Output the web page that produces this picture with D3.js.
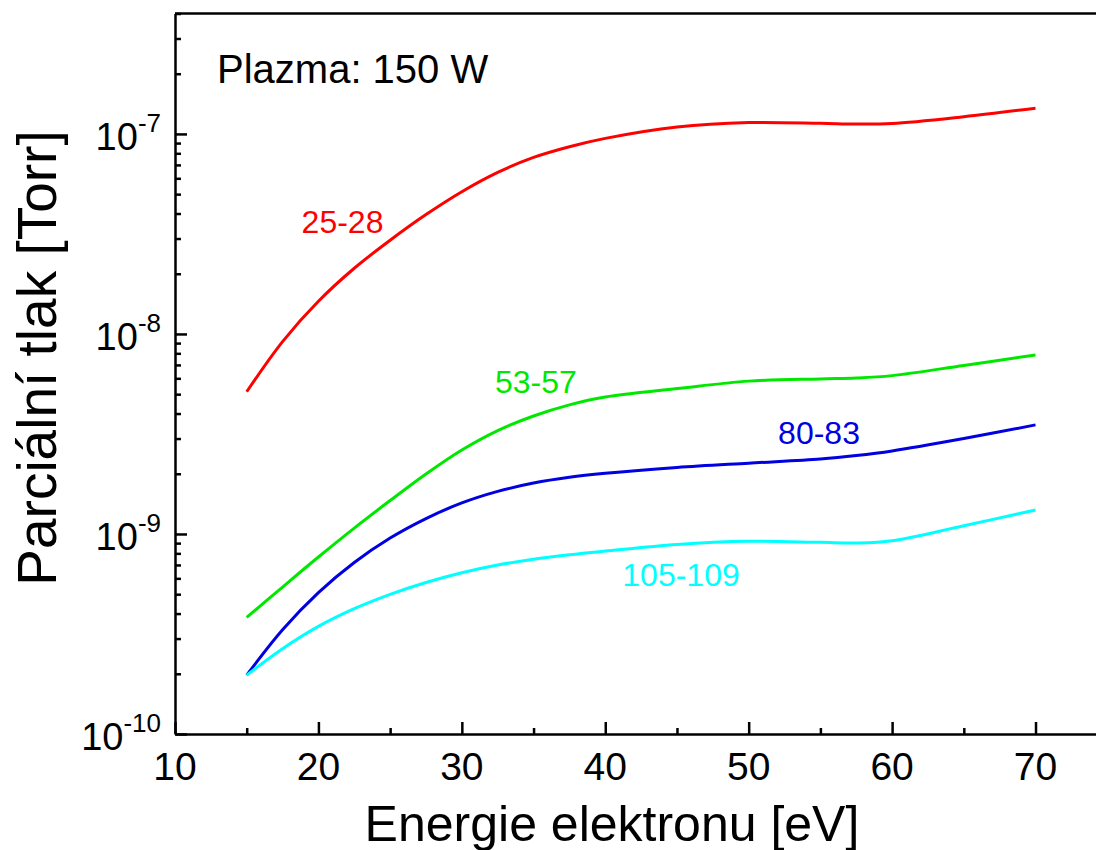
<!DOCTYPE html>
<html>
<head>
<meta charset="utf-8">
<script src="https://cdn.jsdelivr.net/npm/d3@7"></script>
<style>
  html, body { margin: 0; padding: 0; background: #fff; }
  svg { display: block; font-family: "Liberation Sans", Arial, Helvetica, sans-serif; }
</style>
</head>
<body>
<svg id="chart" width="1096" height="850"></svg>
<script>
// ---- data ----
const energy = [15, 17.5, 20, 22.5, 25, 27.5, 30, 32.5, 35, 37.5, 40, 45, 50, 55, 57.5, 60, 65, 70];
const s25_28 = [5.14e-9, 9.16e-9, 1.457e-8, 2.13e-8, 2.94e-8, 3.95e-8, 5.14e-8, 6.42e-8, 7.63e-8, 8.63e-8, 9.5e-8, 1.083e-7, 1.14e-7, 1.13e-7, 1.12e-7, 1.128e-7, 1.22e-7, 1.345e-7];
const s53_57 = [3.83e-10, 5.43e-10, 7.67e-10, 1.07e-9, 1.469e-9, 1.995e-9, 2.63e-9, 3.29e-9, 3.89e-9, 4.42e-9, 4.84e-9, 5.33e-9, 5.81e-9, 5.96e-9, 6.02e-9, 6.19e-9, 6.96e-9, 7.85e-9];
const s80_83 = [1.97e-10, 3.32e-10, 5.09e-10, 7.2e-10, 9.54e-10, 1.194e-9, 1.43e-9, 1.633e-9, 1.797e-9, 1.92e-9, 2.01e-9, 2.15e-9, 2.26e-9, 2.37e-9, 2.466e-9, 2.6e-9, 3.0e-9, 3.51e-9];
const s105_109 = [1.97e-10, 2.67e-10, 3.45e-10, 4.23e-10, 4.99e-10, 5.72e-10, 6.40e-10, 6.99e-10, 7.48e-10, 7.87e-10, 8.21e-10, 8.87e-10, 9.19e-10, 9.08e-10, 9.02e-10, 9.26e-10, 1.10e-9, 1.318e-9];
const seriesNames = ["25-28", "53-57", "80-83", "105-109"];
const xTickValues = [10, 20, 30, 40, 50, 60, 70];
const yTickExponents = [-10, -9, -8, -7];
const annotation = "Plazma: 150 W";
const xTitle = "Energie elektronu [eV]";
const yTitle = "Parciální tlak [Torr]";

// ---- layout / styles ----
const colors = ["#ff0000", "#00e800", "#0000e0", "#00ffff"];
const labelPos = [[342.5, 233], [535.8, 393.3], [819, 444], [681, 586]];
const plotLeft = 175, plotBottom = 734, plotTop = 13.5;

const svg = d3.select("#chart");
const x = d3.scaleLinear().domain([10, 75]).range([plotLeft, plotLeft + 65 * 14.342]);
const y = d3.scaleLog().domain([1e-10, 4e-7]).range([plotBottom, plotTop]);

const allSeries = [s25_28, s53_57, s80_83, s105_109];

// lines
const line = d3.line()
  .x((d, i) => x(energy[i]))
  .y(d => y(d))
  .curve(d3.curveCatmullRom.alpha(0.5));

allSeries.forEach((s, k) => {
  svg.append("path")
    .attr("d", line(s))
    .attr("fill", "none")
    .attr("stroke", colors[k])
    .attr("stroke-width", 3);
});

// x axis
const xMinor = d3.range(15, 76, 10);
svg.append("g").attr("transform", `translate(0,${plotBottom})`)
  .call(d3.axisBottom(x).tickValues(xTickValues).tickSizeInner(-12).tickSizeOuter(0).tickFormat(""))
  .call(g => g.selectAll("line,path").attr("stroke", "#000").attr("stroke-width", 2.5));
svg.append("g").attr("transform", `translate(0,${plotBottom})`)
  .call(d3.axisBottom(x).tickValues(xMinor).tickSizeInner(-6).tickSizeOuter(0).tickFormat(""))
  .call(g => g.select("path").remove())
  .call(g => g.selectAll("line").attr("stroke", "#000").attr("stroke-width", 2.5));

svg.append("g").selectAll("text").data(xTickValues).join("text")
  .attr("x", d => x(d))
  .attr("y", 780)
  .attr("text-anchor", "middle")
  .attr("font-size", 39)
  .attr("fill", "#000")
  .text(d => d);

// y axis
const yMajor = yTickExponents.map(e => Math.pow(10, e));
const yMinor = [];
[-10, -9, -8, -7].forEach(e => { for (let m = 2; m <= 9; m++) { const v = m * Math.pow(10, e); if (v <= 4e-7) yMinor.push(v); } });
svg.append("g").attr("transform", `translate(${plotLeft},0)`)
  .call(d3.axisLeft(y).tickValues(yMajor).tickSizeInner(-12).tickSizeOuter(0).tickFormat(""))
  .call(g => g.selectAll("line,path").attr("stroke", "#000").attr("stroke-width", 2.5));
svg.append("g").attr("transform", `translate(${plotLeft},0)`)
  .call(d3.axisLeft(y).tickValues(yMinor).tickSizeInner(-6).tickSizeOuter(0).tickFormat(""))
  .call(g => g.select("path").remove())
  .call(g => g.selectAll("line").attr("stroke", "#000").attr("stroke-width", 2.5));

// top border
svg.append("line")
  .attr("x1", plotLeft).attr("x2", 1096)
  .attr("y1", plotTop).attr("y2", plotTop)
  .attr("stroke", "#000").attr("stroke-width", 2.5);

const yl = svg.append("g").selectAll("text").data(yTickExponents).join("text")
  .attr("x", 161)
  .attr("y", d => y(Math.pow(10, d)) + 16)
  .attr("text-anchor", "end")
  .attr("fill", "#000");
yl.append("tspan").attr("font-size", 38).text("10");
yl.append("tspan").attr("font-size", 26).attr("dy", -18).text(d => "-" + Math.abs(d));

// series labels
seriesNames.forEach((n, k) => {
  svg.append("text")
    .attr("x", labelPos[k][0]).attr("y", labelPos[k][1])
    .attr("text-anchor", "middle")
    .attr("font-size", 32)
    .attr("fill", colors[k])
    .text(n);
});

// annotation
svg.append("text")
  .attr("x", 217).attr("y", 83)
  .attr("font-size", 40)
  .attr("fill", "#000")
  .text(annotation);

// axis titles
svg.append("text")
  .attr("x", 612).attr("y", 841)
  .attr("text-anchor", "middle")
  .attr("font-size", 50)
  .attr("fill", "#000")
  .text(xTitle);

svg.append("text")
  .attr("transform", "translate(56,358) rotate(-90)")
  .attr("text-anchor", "middle")
  .attr("font-size", 55)
  .attr("fill", "#000")
  .text(yTitle);
</script>
</body>
</html>
